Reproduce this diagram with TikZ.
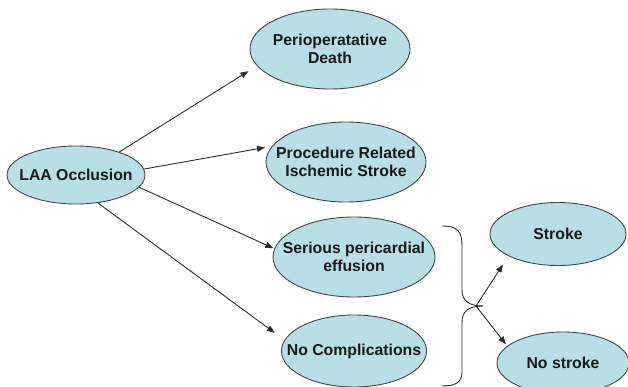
\documentclass[tikz,border=0pt]{standalone}
\usepackage{fontspec}
\setmainfont{Liberation Sans}
\usetikzlibrary{shapes.geometric,arrows.meta}
\definecolor{blobfill}{RGB}{184,222,230}
\definecolor{blobline}{RGB}{70,70,70}
\definecolor{connc}{RGB}{45,45,45}
\tikzset{
  blob/.style={ellipse, draw=blobline, line width=0.9pt, fill=blobfill, inner sep=0pt},
  lbl/.style={align=center, font=\fontsize{15.8}{18.5}\selectfont\bfseries, text=black!90, inner sep=0pt},
  conn/.style={draw=connc, line width=0.9pt, -{Triangle[length=8pt,width=6pt]}},
  bracestyle/.style={draw=connc, line width=0.9pt}
}
\begin{document}
\begin{tikzpicture}[x=1pt,y=-1pt]
\useasboundingbox (0,0) rectangle (628,387);
% ellipses
\node[blob, minimum width=138pt, minimum height=58pt] (laa) at (76,175) {};
\node[lbl] (laat) at (laa) {LAA Occlusion};
\node[blob, minimum width=160pt, minimum height=80pt] (perio) at (330,49) {};
\node[lbl] (periot) at (perio) {Perioperatative\\Death};
\node[blob, minimum width=160pt, minimum height=80pt] (proc) at (346,162) {};
\node[lbl] (proct) at (proc) {Procedure Related\\Ischemic Stroke};
\node[blob, minimum width=162pt, minimum height=80pt] (ser) at (354,257) {};
\node[lbl] (sert) at (ser) {Serious pericardial\\effusion};
\node[blob, minimum width=145pt, minimum height=72pt] (noc) at (354,351) {};
\node[lbl] (noct) at (noc) {No Complications};
\node[blob, minimum width=136pt, minimum height=63pt] (stroke) at (558,234) {};
\node[lbl] (stroket) at (stroke) {Stroke};
\node[blob, minimum width=132pt, minimum height=62pt] (nostroke) at (563,363) {};
\node[lbl] (nostroket) at (nostroke) {No stroke};
% connectors
\draw[conn, shorten >=10pt] (laa.28) -- (perio.193);
\draw[conn, shorten >=7pt] (laa.5) -- (proc.168);
\draw[conn, shorten >=1pt] (laa.-11) -- (ser.174);
\draw[conn, shorten >=12pt] (laa.-52) -- (noc.171);
% brace
\draw[bracestyle] (442,226) .. controls (458,226) and (462,232) .. (462,246) -- (462,290) .. controls (462,300) and (468,306) .. (483,306);
\draw[bracestyle] (483,306) .. controls (468,306) and (462,312) .. (462,322) -- (462,372) .. controls (462,382) and (456,386) .. (442,386);
\coordinate (bt) at (476,306);
\draw[conn, shorten >=10pt] (bt) -- (stroke.204);
\draw[conn, shorten >=2pt] (bt) -- (nostroke.163);
\end{tikzpicture}
\end{document}
